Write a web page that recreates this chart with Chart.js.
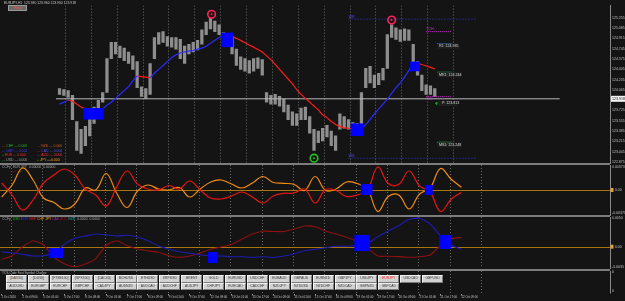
<!DOCTYPE html>
<html><head><meta charset="utf-8">
<script src="https://cdn.jsdelivr.net/npm/chart.js@4.4.1/dist/chart.umd.min.js"></script>
<style>
html,body{margin:0;padding:0;background:#141414;width:625px;height:301px;overflow:hidden;position:relative;font-family:'Liberation Sans',Arial,sans-serif;}
canvas{position:absolute;left:0;top:0;}
.sep{position:absolute;left:0;width:610px;height:2px;background:#7d7d7d;}
.btn{position:absolute;height:7.4px;width:21px;background:#d2d2d2;border-top:1px solid #f2f2f2;border-left:1px solid #f2f2f2;border-right:1px solid #7a7a7a;border-bottom:1px solid #7a7a7a;box-sizing:border-box;color:#3a3a3a;font-size:3.4px;line-height:5.4px;text-align:center;white-space:nowrap;overflow:hidden;}
.pbtn{position:absolute;left:8px;top:5px;width:19px;height:6px;background:#6a6a6a;border:1px solid #9a9a9a;box-sizing:border-box;color:#ff4a4a;font-size:3.4px;line-height:4px;text-align:center;}
</style></head>
<body>
<canvas id="cMain" width="625" height="301"></canvas>
<canvas id="cP1" width="625" height="301"></canvas>
<canvas id="cP2" width="625" height="301"></canvas>
<canvas id="cAx" width="625" height="301"></canvas>
<div class="sep" style="top:163px"></div>
<div class="sep" style="top:215px"></div>
<div class="sep" style="top:268.5px"></div>
<div class="pbtn">Panel</div>
<div id="btns"></div>
<script>
// ---------------- DATA ----------------
// main price panel, one sample every 4 H1 bars (bar index = 2 + 4*i)
const CANDLE_HI = [124.086,124.070,124.054,123.974,123.543,123.415,123.463,123.623,123.782,123.894,
 124.022,124.581,124.852,124.852,124.788,124.756,124.692,124.629,124.533,124.118,
 124.086,124.501,124.932,125.012,125.028,124.948,124.932,124.932,124.900,124.788,
 124.820,124.852,124.884,125.059,125.187,125.251,125.203,125.139,125.012,124.980,
 124.948,124.740,124.613,124.581,124.549,124.581,124.597,124.565,124.022,123.974,
 123.990,123.958,123.910,123.814,123.703,123.671,123.766,123.782,123.623,123.415,
 123.383,123.431,123.479,123.383,123.304,123.671,123.623,123.575,123.527,123.511,
 124.022,124.421,124.453,124.309,124.341,124.421,124.980,125.139,125.091,125.059,
 125.075,125.059,124.820,124.533,124.309,124.150,124.134,124.086];
const CANDLE_LO = [123.990,123.974,123.942,123.575,123.064,123.016,123.144,123.304,123.511,123.671,
 123.862,124.022,124.581,124.660,124.597,124.549,124.501,124.405,124.102,123.958,
 123.926,123.990,124.581,124.820,124.852,124.788,124.772,124.740,124.581,124.501,
 124.660,124.692,124.724,124.820,124.980,125.075,125.028,124.980,124.820,124.788,
 124.660,124.469,124.405,124.373,124.341,124.373,124.421,124.309,123.862,123.830,
 123.830,123.798,123.703,123.575,123.479,123.479,123.575,123.575,123.351,123.064,
 123.192,123.224,123.288,123.144,123.064,123.415,123.431,123.415,123.383,123.351,
 123.463,124.102,124.182,124.102,124.150,124.229,124.421,124.932,124.900,124.868,
 124.884,124.884,124.405,124.309,124.054,123.990,123.990,123.958];
const MA = [123.830,123.862,123.894,123.878,123.830,123.782,123.750,123.718,123.671,123.703,
 123.750,123.814,123.862,123.926,123.990,124.054,124.118,124.213,124.293,124.285,
 124.277,124.269,124.341,124.405,124.469,124.533,124.597,124.644,124.676,124.692,
 124.708,124.716,124.740,124.756,124.788,124.836,124.884,124.932,124.964,124.972,
 124.948,124.916,124.884,124.844,124.804,124.772,124.732,124.692,124.629,124.565,
 124.485,124.405,124.325,124.245,124.166,124.070,123.990,123.926,123.862,123.798,
 123.735,123.655,123.607,123.543,123.495,123.463,123.439,123.431,123.423,123.415,
 123.431,123.495,123.575,123.671,123.750,123.830,123.910,124.006,124.102,124.182,
 124.277,124.389,124.485,124.501,124.485,124.461,124.437,124.413];
const CURRENT_PRICE = 123.918;
const PRICE_TICKS = [125.255,125.085,124.915,124.745,124.575,124.405,124.235,124.065,123.725,123.555,123.385,123.215,123.045,122.875];

// indicator panels, one sample every 8 bars (bar index = 8*i)
const CCF1_EUR = [0.00112,-0.00080,-0.00320,-0.00160,0.00112,0.00240,0.00336,0.00240,0.00016,-0.00080,
 -0.00256,0.00048,0.00304,0.00096,0.00016,0.00000,0.00072,0.00016,0.00144,0.00000,
 -0.00128,-0.00144,-0.00096,-0.00032,-0.00112,-0.00208,-0.00096,-0.00053,-0.00048,0.00016,
 -0.00208,0.00008,-0.00008,-0.00104,-0.00080,0.00000,0.00368,0.00104,0.00091,0.00304,
 0.00064,-0.00032,-0.00344,-0.00152,-0.00037];
const CCF1_JPY = [-0.00112,0.00080,0.00352,0.00160,-0.00128,-0.00200,-0.00304,-0.00224,0.00032,0.00000,
 0.00264,-0.00048,-0.00280,-0.00016,0.00080,0.00016,0.00000,0.00040,-0.00112,0.00016,
 0.00128,0.00160,0.00096,0.00032,0.00112,0.00216,0.00120,0.00107,0.00088,-0.00008,
 0.00216,-0.00008,0.00016,0.00128,0.00104,0.00016,-0.00344,-0.00104,-0.00080,-0.00304,
 -0.00064,0.00032,0.00344,0.00176,0.00043];
const CCF2_EUR = [-0.00088,-0.00111,-0.00134,-0.00164,-0.00158,-0.00106,0.00042,0.00148,0.00188,0.00224,
 0.00211,0.00188,0.00201,0.00171,0.00106,0.00012,-0.00040,-0.00088,-0.00116,-0.00141,
 -0.00164,-0.00164,-0.00176,-0.00176,-0.00187,-0.00176,-0.00187,-0.00164,-0.00123,-0.00070,
 -0.00046,-0.00018,0.00007,0.00007,0.00025,0.00053,0.00176,0.00276,0.00370,0.00482,
 0.00500,0.00400,0.00194,0.00030,-0.00046];
const CCF2_JPY = [-0.00222,-0.00158,0.00000,0.00106,0.00030,-0.00187,-0.00299,-0.00352,-0.00304,-0.00211,
 0.00025,0.00106,0.00018,-0.00040,-0.00070,-0.00099,-0.00158,-0.00187,-0.00164,-0.00111,
 -0.00044,-0.00005,0.00039,0.00136,0.00224,0.00273,0.00268,0.00268,0.00312,0.00364,
 0.00352,0.00276,0.00224,0.00165,0.00100,-0.00023,-0.00164,-0.00167,-0.00174,-0.00187,
 -0.00176,-0.00146,0.00021,0.00136,0.00165];
const P1_TICKS = [0.003736, 0, -0.003736];
const P2_TICKS = [0.0050, 0, -0.0035];

// signal boxes (bar from, bar to, value top, value bottom)
const BOX_MAIN_T0 = [24,152,272,327], BOX_MAIN_T1 = [43,163,284,336];
const BOX_MAIN_HI = [123.766,125.012,123.511,124.533], BOX_MAIN_LO = [123.575,124.772,123.304,124.373];
const BOX_P1_T0 = [275,324], BOX_P1_T1 = [284,330], BOX_P1_HI = [0.00096,0.0008], BOX_P1_LO = [-0.0008,-0.0008];
const BOX_P2_T0 = [36,158,270,335], BOX_P2_T1 = [47,165,282,344];
const BOX_P2_HI = [-0.00023,-0.00093,0.00206,0.00206], BOX_P2_LO = [-0.00199,-0.00287,-0.00076,-0.0004];

// swing markers
const SWING_HIGH_T = [143,310], SWING_HIGH_P = [125.315,125.219];
const SWING_LOW_T = [238], SWING_LOW_P = [122.936];

// pivot levels
const PIVOT_NAMES = ['WR','WS','TCH','R1','MR1','TCL','MS1'];
const PIVOT_VALUES = [125.235,122.936,125.028,124.831,124.357,123.953,123.200];
const PIVOT_FROM = [270,270,342,352,352,342,352];
const PIVOT_TO = [389,389,366,366,366,366,366];
const PIVOT_LABELS = ['R1: 124.935','MR1: 124.244','P: 123.813','MS1: 123.248'];
const PIVOT_LABEL_P = [124.788,124.314,123.842,123.155];

// time axis
const TIME_LABELS = ['1 Oct 2020','2 Oct 09:00','5 Oct 01:00','5 Oct 17:00','6 Oct 09:00','7 Oct 01:00','7 Oct 17:00',
 '8 Oct 09:00','9 Oct 01:00','9 Oct 17:00','12 Oct 09:00','13 Oct 01:00','13 Oct 17:00','14 Oct 09:00',
 '15 Oct 01:00','15 Oct 17:00','16 Oct 09:00','19 Oct 01:00','19 Oct 17:00','20 Oct 09:00','21 Oct 01:00',
 '21 Oct 17:00','22 Oct 09:00'];
const SEPARATOR_BARS = [7,31,55,79,103,127,151,175,199,223,247,271,295,319,343,367];

const BUTTON_ROW1 = ['[DAX30]','[DJI30]','[FTSE100]','[SPX500]','[CAC40]','BCHUSD','ETHUSD','XRPUSD','BRENT','GOLD',
 'EURUSD','USDCHF','EURAUD','GBPAUD','EURNZD','GBPJPY','USDJPY','EURJPY','USDCAD','GBPUSD'];
const BUTTON_ROW2 = ['AUDUSD','EURGBP','EURCHF','GBPCHF','CADJPY','AUDNZD','AUDCAD','AUDCHF','AUDJPY','CHFJPY',
 'EURCAD','CADCHF','NZDJPY','NZDUSD','NZDCHF','NZDCAD','GBPNZD','GBPCAD'];
const ACTIVE_SYMBOL = 'EURJPY';

// ---------------- RENDER ----------------
const XMIN = -1.3, XMAX = 465.8;
const FONT = '"Liberation Sans", Arial, sans-serif';
Chart.defaults.font.family = FONT;

function drawRuns(ctx, runs, x, y, size) {
  ctx.font = (size || 3.4) + 'px ' + FONT;
  ctx.textBaseline = 'middle'; ctx.textAlign = 'left';
  let cx = x;
  runs.forEach(r => { ctx.fillStyle = r[1]; ctx.fillText(r[0], cx, y); cx += ctx.measureText(r[0]).width; });
}

function makeOverlay(cfg) {
  return {
    id: 'ov_' + Math.random().toString(36).slice(2),
    beforeDatasetsDraw(chart) {
      const {ctx, chartArea: a, scales} = chart;
      ctx.save();
      ctx.beginPath(); ctx.rect(a.left, a.top, a.right - a.left, a.bottom - a.top); ctx.clip();
      ctx.strokeStyle = '#6c6c6c'; ctx.lineWidth = 1; ctx.setLineDash([1, 2]);
      SEPARATOR_BARS.forEach(b => {
        const px = Math.round(scales.x.getPixelForValue(b)) + 0.5;
        ctx.beginPath(); ctx.moveTo(px, a.top); ctx.lineTo(px, a.bottom); ctx.stroke();
      });
      ctx.setLineDash([]);
      if (cfg.zero) {
        const py = Math.round(scales.y.getPixelForValue(0)) + 0.5;
        ctx.strokeStyle = '#a8750e'; ctx.beginPath(); ctx.moveTo(a.left, py); ctx.lineTo(a.right, py); ctx.stroke();
      }
      ctx.restore();
    },
    afterDatasetsDraw(chart) {
      const {ctx, chartArea: a, scales} = chart;
      if (!cfg.boxes) return;
      const bx = cfg.boxes;
      ctx.save();
      ctx.beginPath(); ctx.rect(a.left, a.top, a.right - a.left, a.bottom - a.top); ctx.clip();
      ctx.fillStyle = '#0000ff';
      bx.t0.forEach((t, i) => {
        const x0 = scales.x.getPixelForValue(t), x1 = scales.x.getPixelForValue(bx.t1[i]);
        const y0 = scales.y.getPixelForValue(bx.hi[i]), y1 = scales.y.getPixelForValue(bx.lo[i]);
        ctx.fillRect(x0, y0, x1 - x0, y1 - y0);
      });
      ctx.restore();
    },
    afterDraw(chart) {
      const {ctx, chartArea: a, scales} = chart;
      ctx.save();
      if (cfg.zero) {
        const py = scales.y.getPixelForValue(0);
        ctx.fillStyle = '#e0a030'; ctx.fillRect(610.5, py - 2, 3, 4);
      }
      if (cfg.rightBorder) {
        ctx.strokeStyle = '#8a8a8a'; ctx.lineWidth = 1;
        ctx.beginPath(); ctx.moveTo(610.5, a.top); ctx.lineTo(610.5, a.bottom); ctx.stroke();
      }
      if (cfg.price) {
        const py = scales.y.getPixelForValue(cfg.price);
        ctx.fillStyle = '#f4f4f4'; ctx.fillRect(611, py - 3, 14, 6);
        ctx.fillStyle = '#111'; ctx.font = '3.6px ' + FONT; ctx.textBaseline = 'middle'; ctx.textAlign = 'left';
        ctx.fillText(cfg.price.toFixed(3), 612, py);
      }
      if (cfg.pivotText) {
        ctx.font = '3.6px ' + FONT; ctx.textBaseline = 'middle'; ctx.textAlign = 'left';
        const px = scales.x.getPixelForValue(352.5);
        PIVOT_LABELS.forEach((t, i) => {
          const py = scales.y.getPixelForValue(PIVOT_LABEL_P[i]);
          ctx.fillStyle = '#1e1e1e'; ctx.fillRect(px, py - 2.6, ctx.measureText(t).width + 2, 5.2);
          ctx.fillStyle = '#d6d6d6'; ctx.fillText(t, px + 1.5 + (i === 2 ? 3 : 0), py);
        });
        const lbl = [['WR', 0, '#4a4aff', -2.5], ['WS', 1, '#4a4aff', -2.5], ['TCH', 2, '#d030d0', -2.5], ['TCL', 5, '#d030d0', 2.5]];
        lbl.forEach(l => {
          const x = scales.x.getPixelForValue(PIVOT_FROM[l[1]]);
          const y = scales.y.getPixelForValue(PIVOT_VALUES[l[1]]) + l[3];
          ctx.fillStyle = l[2]; ctx.fillText(l[0], x, y);
        });
      }
      (cfg.runs || []).forEach(r => drawRuns(ctx, r.runs, r.x, r.y, r.s));
      ctx.restore();
    }
  };
}

function baseOptions(padTop, padBottom, ymin, ymax, ticks, fmt) {
  return {
    responsive: false, animation: false, devicePixelRatio: 1, events: [],
    layout: {padding: {top: padTop, bottom: padBottom, left: 0, right: 0}},
    plugins: {legend: {display: false}, tooltip: {enabled: false}},
    scales: {
      x: {type: 'linear', min: XMIN, max: XMAX, display: false},
      y: {
        position: 'right', min: ymin, max: ymax,
        afterFit: s => { s.width = 15; },
        afterBuildTicks: s => { s.ticks = ticks.map(v => ({value: v})); },
        ticks: {callback: fmt, font: {size: 3.5}, color: '#c0c0c0', padding: 2, autoSkip: false},
        grid: {display: false, drawTicks: false},
        border: {display: true, color: '#8a8a8a', width: 1}
      }
    }
  };
}

const pts = (arr, step, off) => arr.map((v, i) => ({x: off + step * i, y: v}));

// ---- main chart
const pivotStyles = [
  {c: '#3535d8', d: [1, 2]}, {c: '#3535d8', d: [1, 2]}, {c: '#c828c8', d: [1, 1]},
  {c: '#2f6db0', d: []}, {c: '#2e9b50', d: []}, {c: '#c828c8', d: [1, 1]}, {c: '#2e9b50', d: []}
];
const pivotSets = PIVOT_VALUES.map((v, i) => ({
  type: 'line', data: [{x: PIVOT_FROM[i], y: v}, {x: PIVOT_TO[i], y: v}],
  borderColor: pivotStyles[i].c, borderDash: pivotStyles[i].d, borderWidth: 1, pointRadius: 0, order: 6
}));
new Chart(document.getElementById('cMain'), {
  type: 'line',
  data: {datasets: [
    {type: 'bar', data: CANDLE_HI.map((h, i) => ({x: 2 + 4 * i, y: [CANDLE_LO[i], h]})),
     backgroundColor: '#8e8e8e', barThickness: 2.6, order: 8},
    {type: 'line', data: [{x: XMIN, y: CURRENT_PRICE}, {x: XMAX, y: CURRENT_PRICE}],
     borderColor: '#b8b8b8', borderWidth: 1, pointRadius: 0, order: 7},
    ...pivotSets,
    {type: 'line', data: pts(MA, 4, 2), borderWidth: 1.2, pointRadius: 0, tension: 0.3, borderColor: '#2a2aff',
     segment: {borderColor: c => c.p1.parsed.y < c.p0.parsed.y ? '#ff1a1a' : '#2a2aff'}, order: 4},
    {type: 'scatter', data: SWING_HIGH_T.map((t, i) => ({x: t, y: SWING_HIGH_P[i]})), pointStyle: 'circle',
     pointRadius: 3.8, borderColor: '#ff2255', borderWidth: 1.6, backgroundColor: 'rgba(0,0,0,0)', order: 2},
    {type: 'scatter', data: SWING_HIGH_T.map((t, i) => ({x: t, y: SWING_HIGH_P[i]})), pointRadius: 1,
     backgroundColor: '#ff2255', borderWidth: 0, order: 1},
    {type: 'scatter', data: SWING_LOW_T.map((t, i) => ({x: t, y: SWING_LOW_P[i]})), pointStyle: 'circle',
     pointRadius: 3.8, borderColor: '#22c022', borderWidth: 1.6, backgroundColor: 'rgba(0,0,0,0)', order: 2},
    {type: 'scatter', data: SWING_LOW_T.map((t, i) => ({x: t, y: SWING_LOW_P[i]})), pointRadius: 1,
     backgroundColor: '#22c022', borderWidth: 0, order: 1},
    {type: 'scatter', data: [{x: 351.7, y: 123.842}], pointRadius: 2, backgroundColor: '#1aa01a',
     borderColor: '#000', borderWidth: 1, order: 1}
  ]},
  options: baseOptions(0, 138, 122.857, 125.4585, PRICE_TICKS, v => v.toFixed(3)),
  plugins: [makeOverlay({
    boxes: {t0: BOX_MAIN_T0, t1: BOX_MAIN_T1, hi: BOX_MAIN_HI, lo: BOX_MAIN_LO},
    price: CURRENT_PRICE, pivotText: true,
    runs: [
      {x: 4, y: 2.8, runs: [['EURJPY,H1  123.930 123.960 123.900 123.918', '#c8c8c8']]},
      {x: 2, y: 146, runs: [['\u2014 ', '#ff2020'], ['CHF ', '#2fb02f'], ['\u2014 0.006', '#2fb02f']]},
      {x: 37, y: 146, runs: [['\u2014 ', '#d01818'], ['NZD ', '#d06018'], ['\u2014 0.000', '#d06018']]},
      {x: 2, y: 150.8, runs: [['\u2014 ', '#3a3aff'], ['GBP ', '#3a3aff'], ['\u2014 0.000', '#3a3aff']]},
      {x: 37, y: 150.8, runs: [['\u2014 ', '#c01818'], ['CAD ', '#5050e0'], ['\u2014 0.000', '#5050e0']]},
      {x: 2, y: 155.5, runs: [['+ ', '#22c022'], ['EUR ', '#ff2a2a'], ['\u2014 0.000', '#ff2a2a']]},
      {x: 37, y: 155.5, runs: [['\u2014 ', '#d01818'], ['AUD ', '#ff3030'], ['\u2014 0.000', '#ff3030']]},
      {x: 2, y: 160.2, runs: [['\u2014 ', '#22a022'], ['USD ', '#a0a0a0'], ['\u2014 0.000', '#a0a0a0']]},
      {x: 37, y: 160.2, runs: [['+ ', '#22c022'], ['JPY ', '#ffa020'], ['++0.000', '#ffa020']]}
    ]
  })]
});

// ---- panel 1
new Chart(document.getElementById('cP1'), {
  type: 'line',
  data: {datasets: [
    {data: pts(CCF1_EUR, 8, 0), borderColor: '#e81414', borderWidth: 1.2, pointRadius: 0, tension: 0.4},
    {data: pts(CCF1_JPY, 8, 0), borderColor: '#f08c10', borderWidth: 1.2, pointRadius: 0, tension: 0.4}
  ]},
  options: baseOptions(165, 86, -0.004, 0.004, P1_TICKS, v => v === 0 ? '   0.00' : v.toFixed(6)),
  plugins: [makeOverlay({
    zero: true,
    boxes: {t0: BOX_P1_T0, t1: BOX_P1_T1, hi: BOX_P1_HI, lo: BOX_P1_LO},
    runs: [
      {x: 2, y: 167, runs: [['CCFp  EUR JPY  0.00000  0.00000', '#a8a8a8']]},
      {x: 13, y: 171, runs: [['\u2014', '#e81414'], ['  ', '#000'], ['\u2014', '#f08c10']]}
    ]
  })]
});

// ---- panel 2
new Chart(document.getElementById('cP2'), {
  type: 'line',
  data: {datasets: [
    {data: pts(CCF2_EUR, 8, 0), borderColor: '#1c1cb4', borderWidth: 1.1, pointRadius: 0, tension: 0.2},
    {data: pts(CCF2_JPY, 8, 0), borderColor: '#8e1010', borderWidth: 1.1, pointRadius: 0, tension: 0.2}
  ]},
  options: baseOptions(217, 33, -0.00375, 0.00523, P2_TICKS, v => v === 0 ? '   0.00' : v.toFixed(4)),
  plugins: [makeOverlay({
    zero: true,
    boxes: {t0: BOX_P2_T0, t1: BOX_P2_T1, hi: BOX_P2_HI, lo: BOX_P2_LO},
    runs: [
      {x: 2, y: 219.5, runs: [['CCFp  ', '#a8a8a8'], ['USD ', '#22b022'], ['EUR ', '#3535ff'], ['GBP ', '#ff2020'],
        ['CHF ', '#ff8c00'], ['JPY ', '#ffa500'], ['CAD ', '#b020b0'], ['AUD ', '#a01010'], ['NZD ', '#20a8a8'],
        [' 0.0000  0.0000', '#a8a8a8']]}
    ]
  })]
});

// ---- button window + time axis
new Chart(document.getElementById('cAx'), {
  type: 'line',
  data: {datasets: []},
  options: {
    responsive: false, animation: false, devicePixelRatio: 1, events: [],
    layout: {padding: {top: 271, bottom: 2, left: 0, right: 15}},
    plugins: {legend: {display: false}, tooltip: {enabled: false}},
    scales: {
      x: {
        type: 'linear', min: XMIN, max: XMAX, position: 'bottom',
        afterBuildTicks: s => { s.ticks = TIME_LABELS.map((t, i) => ({value: 16 * i})); },
        ticks: {callback: (v, i) => TIME_LABELS[i], align: 'start', maxRotation: 0, autoSkip: false,
          font: {size: 2.9}, color: '#c8c8c8', padding: 0},
        grid: {display: true, drawOnChartArea: false, drawTicks: true, tickLength: 2, color: '#9a9a9a'},
        border: {display: false}
      },
      y: {display: false, min: 0, max: 1}
    }
  },
  plugins: [makeOverlay({
    rightBorder: true,
    runs: [
      {x: 2, y: 273.2, runs: [['YCS-Code Fast Symbol Change', '#b4b4b4']], s: 3.1},
      {x: 612, y: 272.5, runs: [['0', '#c8c8c8']]},
      {x: 612, y: 291, runs: [['0', '#c8c8c8']]}
    ]
  })]
});

// symbol buttons (UI of the button sub-window)
const host = document.getElementById('btns');
[[BUTTON_ROW1, 275.3], [BUTTON_ROW2, 282.9]].forEach(([row, top]) => {
  row.forEach((name, i) => {
    const d = document.createElement('div');
    d.className = 'btn';
    d.style.left = (6 + 21.9 * i) + 'px';
    d.style.top = top + 'px';
    if (name === ACTIVE_SYMBOL) d.style.color = '#ff2020';
    d.textContent = name;
    host.appendChild(d);
  });
});
</script>
</body></html>
